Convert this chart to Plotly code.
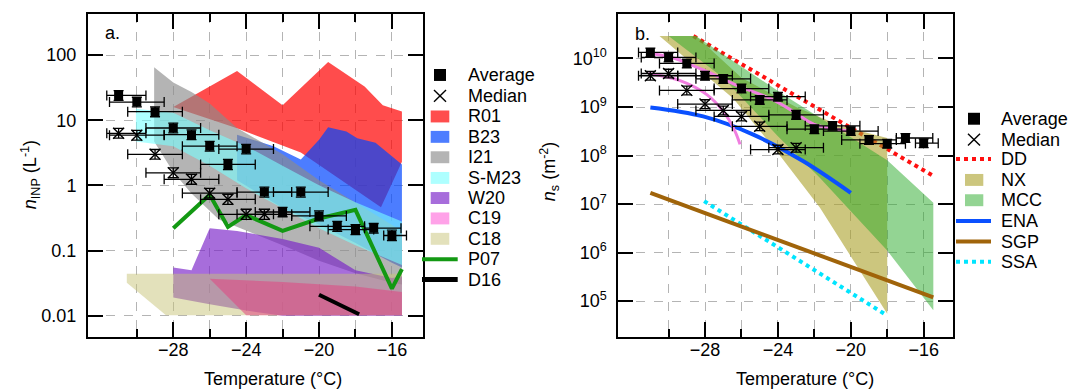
import plotly.graph_objects as go

FONT = "Liberation Sans, Arial, sans-serif"

# ---------------- panel a: INP concentration ----------------
temps = [-31, -30, -29, -28, -27, -26, -25, -24, -23, -22, -21, -20, -19, -18, -17, -16]
temp_err_minus = [0.65, 1.5, 1.5, 1.5, 1.5, 1.5, 1.5, 1.5, 1.5, 1.5, 1.5, 1.5, 1.5, 1.5, 0.5, 0.45]
temp_err_plus = [1.5, 1.5, 1.5, 1.5, 1.5, 1.5, 1.5, 1.5, 1.5, 1.5, 1.5, 1.5, 1.5, 1.0, 1.5, 0.8]

inp_avg = [24, 19, 13.5, 7.6, 6.0, 4.0, 2.1, 3.6, 0.79, 0.39, 0.79, 0.34, 0.235, 0.21, 0.22, 0.17]
inp_avg_err_plus = [4.5, 3.5, 2.5, 1.4, 1.1, 0.75, 0.4, 0.65, 0.15, 0.07, 0.15, 0.065, 0.045, 0.04, 0.04, 0.035]
inp_avg_err_minus = [3.8, 3.0, 2.2, 1.2, 0.95, 0.65, 0.35, 0.55, 0.13, 0.06, 0.13, 0.055, 0.038, 0.035, 0.035, 0.028]

med_temps = [-31, -30, -29, -28, -27, -26, -25, -24, -23]
inp_med = [6.3, 5.9, 3.0, 1.56, 1.24, 0.76, 0.61, 0.36, 0.36]
inp_med_err_plus = [1.2, 1.1, 0.55, 0.3, 0.24, 0.14, 0.12, 0.07, 0.07]
inp_med_err_minus = [1.0, 0.95, 0.48, 0.25, 0.2, 0.12, 0.1, 0.06, 0.06]

# literature bands (upper edge / lower edge)
r01_up_t = [-28, -24.5, -22, -19.5, -17.5, -16.5, -15.45]
r01_up_v = [16, 57, 17, 78, 33, 17, 13.6]
r01_lo_t = [-28, -24.5, -21, -16.6, -15.45]
r01_lo_v = [16, 7.5, 3.2, 0.46, 2.3]

b23_up_t = [-24.5, -22.5, -21, -20, -19.5, -18.5, -17.9, -16.9, -15.45]
b23_up_v = [6, 4, 2.5, 5, 7.8, 6.7, 5.3, 4.5, 2.1]
b23_lo_t = [-24.5, -22, -20, -18, -16, -15.45]
b23_lo_v = [1.2, 0.45, 0.25, 0.13, 0.065, 0.055]

i21_up_t = [-29.05, -28, -27, -26, -24.5, -22, -20, -18, -16, -15.45]
i21_up_v = [65, 38, 27, 18, 7.6, 3.0, 1.2, 0.55, 0.25, 0.2]
i21_lo_t = [-29.05, -28, -27, -25.5, -24, -22, -20, -18, -16, -15.45]
i21_lo_v = [4.7, 1.6, 0.75, 0.3, 0.2, 0.12, 0.07, 0.045, 0.032, 0.03]

sm23_up_t = [-30.05, -28, -26, -24, -22, -20, -18, -16, -15.45]
sm23_up_v = [15, 13, 7, 4, 2.0, 1.0, 0.55, 0.32, 0.28]
sm23_lo_t = [-30.05, -28, -26, -24, -22, -20, -18, -16, -15.45]
sm23_lo_v = [4.7, 4.0, 2.0, 0.9, 0.45, 0.22, 0.12, 0.07, 0.06]

w20_up_t = [-28, -27, -26, -24.5, -22, -20, -18, -16, -15.45]
w20_up_v = [0.055, 0.05, 0.22, 0.2, 0.15, 0.11, 0.05, 0.038, 0.04]
w20_lo_t = [-28, -26, -24, -22, -15.45]
w20_lo_v = [0.019, 0.015, 0.012, 0.01, 0.01]

c19_up_t = [-26, -22, -18, -15.45]
c19_up_v = [0.037, 0.033, 0.028, 0.023]
c19_lo_t = [-24, -15.45]
c19_lo_v = [0.0102, 0.0102]

c18_up_t = [-30.55, -15.45]
c18_up_v = [0.044, 0.044]
c18_lo_t = [-30.55, -28.4, -15.45]
c18_lo_v = [0.032, 0.0102, 0.0102]

p07_t = [-28, -26, -25, -24, -22, -20, -18, -16, -15.45]
p07_v = [0.22, 0.72, 0.23, 0.35, 0.2, 0.31, 0.42, 0.026, 0.052]

d16_t = [-20, -17.8]
d16_v = [0.021, 0.0105]

# ---------------- panel b: surface site density ----------------
ns_avg = [1.33e10, 1.05e10, 7.9e9, 4.4e9, 3.8e9, 2.4e9, 1.4e9, 1.64e9, 6.9e8, 3.5e8, 4.1e8, 3.2e8, 2.1e8, 1.76e8, 2.3e8, 1.8e8]
ns_avg_err_plus = [3.0e9, 2.4e9, 1.8e9, 1.0e9, 0.85e9, 0.55e9, 0.32e9, 0.37e9, 1.6e8, 0.8e8, 0.9e8, 0.7e8, 0.48e8, 0.4e8, 0.52e8, 0.41e8]
ns_avg_err_minus = [2.5e9, 2.0e9, 1.5e9, 0.83e9, 0.72e9, 0.45e9, 0.26e9, 0.31e9, 1.3e8, 0.66e8, 0.77e8, 0.6e8, 0.4e8, 0.33e8, 0.43e8, 0.34e8]

ns_med = [4.4e9, 4.9e9, 2.2e9, 1.15e9, 8.5e8, 6.4e8, 4.0e8, 1.33e8, 1.45e8]
ns_med_err_plus = [1.0e9, 1.1e9, 0.5e9, 0.26e9, 1.9e8, 1.45e8, 0.9e8, 0.3e8, 0.33e8]
ns_med_err_minus = [0.83e9, 0.92e9, 0.42e9, 0.22e9, 1.6e8, 1.2e8, 0.75e8, 0.25e8, 0.27e8]

nx_up_t = [-30.5, -28.5, -26, -23, -20.5, -18.0]
nx_up_v = [2.9e10, 2.9e10, 4.0e9, 1.0e9, 4.0e8, 2.3e8]
nx_lo_t = [-30.5, -26.45, -24.07, -21.7, -19.86, -18.0]
nx_lo_v = [2.9e10, 1.5e9, 1.23e8, 8.5e6, 6.8e5, 5.5e4]

mcc_up_t = [-30.0, -28.5, -23.5, -18, -15.47]
mcc_up_v = [2.9e10, 2.9e10, 1.6e9, 8.0e7, 1.07e7]
mcc_lo_t = [-30.0, -27.0, -24.0, -21.7, -18, -15.47]
mcc_lo_v = [2.9e10, 4.0e9, 2.5e8, 3.5e7, 1.1e6, 6.5e4]

dd_t = [-28.64, -15.47]
dd_v = [2.9e10, 3.8e7]

ena_t = [-31, -28.1, -25.35, -22.6, -20]
ena_v = [9.8e8, 6.4e8, 2.7e8, 7.6e7, 1.7e7]

sgp_t = [-31, -15.47]
sgp_v = [1.7e7, 1.2e5]

ssa_t = [-28.05, -18.02]
ssa_v = [1.15e7, 5.1e4]

fit_avg_t = [-31.2, -29.9, -28.1, -26.26, -24.43, -23.15, -22, -20]
fit_avg_v = [1.3e10, 1.07e10, 5.8e9, 2.8e9, 1.5e9, 8.1e8, 4.4e8, 3.2e8]
fit_med_t = [-31.1, -29.37, -27.9, -27.0, -26.36, -26.08]
fit_med_v = [4.9e9, 3.5e9, 1.8e9, 8.1e8, 3.2e8, 1.7e8]

# ---------------- styles ----------------
# (name, upper T, upper v, lower T, lower v, fill colour, legend swatch colour)
band_a = [
    ("R01", r01_up_t, r01_up_v, r01_lo_t, r01_lo_v, "rgba(255,0,0,0.7)", "rgb(255,77,77)"),
    ("B23", b23_up_t, b23_up_v, b23_lo_t, b23_lo_v, "rgba(0,70,255,0.7)", "rgb(77,125,255)"),
    ("I21", i21_up_t, i21_up_v, i21_lo_t, i21_lo_v, "rgba(140,140,140,0.65)", "rgb(180,180,180)"),
    ("S-M23", sm23_up_t, sm23_up_v, sm23_lo_t, sm23_lo_v, "rgba(120,255,255,0.6)", "rgb(174,255,255)"),
    ("W20", w20_up_t, w20_up_v, w20_lo_t, w20_lo_v, "rgba(120,30,200,0.65)", "rgb(167,109,219)"),
    ("C19", c19_up_t, c19_up_v, c19_lo_t, c19_lo_v, "rgba(225,70,130,0.55)", "rgb(255,162,232)"),
    ("C18", c18_up_t, c18_up_v, c18_lo_t, c18_lo_v, "rgba(200,195,120,0.5)", "rgb(227,225,187)"),
]
draw_order_a = [0, 1, 2, 3, 4, 6, 5]
band_b = [
    ("NX", nx_up_t, nx_up_v, nx_lo_t, nx_lo_v, "rgba(170,160,40,0.6)", "rgb(204,198,126)"),
    ("MCC", mcc_up_t, mcc_up_v, mcc_lo_t, mcc_lo_v, "rgba(40,170,40,0.5)", "rgb(147,212,147)"),
]

fig = go.Figure()


def add_band(name, ut, uv, lt, lv, color, _sw, xa, ya):
    fig.add_trace(go.Scatter(x=list(ut) + list(lt)[::-1], y=list(uv) + list(lv)[::-1],
                             mode="lines", fill="toself", fillcolor=color,
                             line=dict(width=0, color=color), name=name,
                             xaxis=xa, yaxis=ya, hoverinfo="skip"))


for i in draw_order_a:
    add_band(*band_a[i], "x", "y")

fig.add_trace(go.Scatter(x=p07_t, y=p07_v, mode="lines", line=dict(color="#139913", width=4),
                         name="P07", xaxis="x", yaxis="y"))
fig.add_trace(go.Scatter(x=d16_t, y=d16_v, mode="lines", line=dict(color="black", width=4),
                         name="D16", xaxis="x", yaxis="y"))

# panel b lines under the bands
fig.add_trace(go.Scatter(x=dd_t, y=dd_v, mode="lines", line=dict(color="#ff1010", width=4, dash="dot"),
                         name="DD", xaxis="x2", yaxis="y2"))
fig.add_trace(go.Scatter(x=ssa_t, y=ssa_v, mode="lines", line=dict(color="#00e5ff", width=4, dash="dot"),
                         name="SSA", xaxis="x2", yaxis="y2"))
for b in band_b:
    add_band(*b, "x2", "y2")
fig.add_trace(go.Scatter(x=ena_t, y=ena_v, mode="lines", line=dict(color="#0a50ff", width=4, shape="spline"),
                         name="ENA", xaxis="x2", yaxis="y2"))
fig.add_trace(go.Scatter(x=sgp_t, y=sgp_v, mode="lines", line=dict(color="#a0640a", width=4),
                         name="SGP", xaxis="x2", yaxis="y2"))
fig.add_trace(go.Scatter(x=fit_avg_t, y=fit_avg_v, mode="lines", line=dict(color="#f07ee0", width=3, shape="spline"),
                         name="fit avg", xaxis="x2", yaxis="y2"))
fig.add_trace(go.Scatter(x=fit_med_t, y=fit_med_v, mode="lines", line=dict(color="#f07ee0", width=3, shape="spline"),
                         name="fit med", xaxis="x2", yaxis="y2"))


def add_points(xs, ys, ep, em, xep, xem, symbol, size, xa, ya, name):
    marker = dict(symbol=symbol, size=size, color="black")
    if symbol == "x-thin":
        marker["line"] = dict(width=1.4, color="black")
    fig.add_trace(go.Scatter(
        x=xs, y=ys, mode="markers", marker=marker, name=name, xaxis=xa, yaxis=ya,
        error_x=dict(type="data", symmetric=False, array=xep, arrayminus=xem,
                     color="black", thickness=1.3, width=5),
        error_y=dict(type="data", symmetric=False, array=ep, arrayminus=em,
                     color="black", thickness=1.3, width=5)))


n_med = len(med_temps)
add_points(med_temps, inp_med, inp_med_err_plus, inp_med_err_minus,
           temp_err_plus[:n_med], temp_err_minus[:n_med], "x-thin", 11, "x", "y", "Median")
add_points(temps, inp_avg, inp_avg_err_plus, inp_avg_err_minus,
           temp_err_plus, temp_err_minus, "square", 9, "x", "y", "Average")
add_points(med_temps, ns_med, ns_med_err_plus, ns_med_err_minus,
           temp_err_plus[:n_med], temp_err_minus[:n_med], "x-thin", 11, "x2", "y2", "Median")
add_points(temps, ns_avg, ns_avg_err_plus, ns_avg_err_minus,
           temp_err_plus, temp_err_minus, "square", 9, "x2", "y2", "Average")

# ---------------- layout ----------------
W, H = 1069, 389
ML, MR, MT, MB = 88, 116, 12, 52.3
PW, PH = W - ML - MR, H - MT - MB


def pxx(v):
    return (v - ML) / PW


def pxy(v):
    return (H - MB - v) / PH


grid = dict(showgrid=True, gridcolor="#b4b4b4", gridwidth=1, griddash="dash")
axis_common = dict(ticks="inside", ticklen=15, tickwidth=2, tickcolor="black",
                   showline=True, linecolor="black", linewidth=2, mirror="ticks",
                   zeroline=False, tickfont=dict(family=FONT, size=18, color="black"), **grid)
xaxis_common = dict(axis_common, tickvals=[-28, -24, -20, -16], ticklabelstandoff=-5,
                    minor=dict(tickvals=[-30, -26, -22, -18], ticks="inside", ticklen=8, tickwidth=2,
                               tickcolor="black", **grid))

fig.update_layout(
    width=W, height=H, margin=dict(l=ML, r=MR, t=MT, b=MB, pad=0),
    paper_bgcolor="white", plot_bgcolor="white", showlegend=False,
    font=dict(family=FONT, size=18, color="black"),
    xaxis=dict(xaxis_common, domain=[0, (422.7 - ML) / PW], range=[-32.68, -14.31]),
    xaxis2=dict(xaxis_common, domain=[(618.3 - ML) / PW, 1], range=[-32.76, -14.39]),
    yaxis=dict(axis_common, type="log", range=[-2.327, 2.63], ticklabelstandoff=6,
               tickvals=[0.01, 0.1, 1, 10, 100], ticktext=["0.01", "0.1", "1", "10", "100"]),
    yaxis2=dict(axis_common, type="log", anchor="x2", range=[4.262, 10.916], ticklabelstandoff=6,
                tickvals=[1e5, 1e6, 1e7, 1e8, 1e9, 1e10],
                ticktext=["10<sup>5</sup>", "10<sup>6</sup>", "10<sup>7</sup>", "10<sup>8</sup>",
                          "10<sup>9</sup>", "10<sup>10</sup>"]),
)

shapes = []
annotations = []


def text(x, y, s, anchor="left", angle=0):
    annotations.append(dict(xref="paper", yref="paper", x=pxx(x), y=pxy(y), text=s, showarrow=False,
                            xanchor=anchor, yanchor="middle", textangle=angle,
                            font=dict(family=FONT, size=18, color="black")))


def sq(cx, cy, s=12):
    shapes.append(dict(type="rect", xref="paper", yref="paper", x0=pxx(cx - s / 2), x1=pxx(cx + s / 2),
                       y0=pxy(cy + s / 2), y1=pxy(cy - s / 2), fillcolor="black", line=dict(width=0)))


def cross(cx, cy, s=6):
    for d in (1, -1):
        shapes.append(dict(type="line", xref="paper", yref="paper", x0=pxx(cx - s), x1=pxx(cx + s),
                           y0=pxy(cy - d * s), y1=pxy(cy + d * s), line=dict(color="black", width=1.4)))


def swatch(x0, x1, cy, color, h=12):
    shapes.append(dict(type="rect", xref="paper", yref="paper", x0=pxx(x0), x1=pxx(x1),
                       y0=pxy(cy + h / 2), y1=pxy(cy - h / 2), fillcolor=color, line=dict(width=0)))


def lseg(x0, x1, cy, color, width=4, dash="solid"):
    shapes.append(dict(type="line", xref="paper", yref="paper", x0=pxx(x0), x1=pxx(x1),
                       y0=pxy(cy), y1=pxy(cy), line=dict(color=color, width=width, dash=dash)))


# legend panel a
ya = [73.3, 94.3, 115, 135.5, 156, 176.8, 197, 217.5, 238, 258.5, 279]
sq(440, ya[0]); text(465.7, ya[0], "Average")
cross(440, ya[1]); text(465.7, ya[1], "Median")
for i, b in enumerate(band_a):
    swatch(430.7, 449.3, ya[2 + i], b[6])
    text(465.7, ya[2 + i], b[0])
lseg(422, 457.7, ya[9], "#139913", 4); text(465.7, ya[9], "P07")
lseg(422, 457.7, ya[10], "black", 5); text(465.7, ya[10], "D16")

# legend panel b
yb = [117.3, 138.3, 157.7, 178.8, 199.2, 220, 240.7, 261]
sq(974, yb[0]); text(999.3, yb[0], "Average")
cross(974, yb[1]); text(999.3, yb[1], "Median")
lseg(956, 991, yb[2], "#ff1010", 4, "dot"); text(999.3, yb[2], "DD")
swatch(965, 983.3, yb[3], band_b[0][6]); text(999.3, yb[3], "NX")
swatch(965, 983.3, yb[4], band_b[1][6]); text(999.3, yb[4], "MCC")
lseg(956, 991, yb[5], "#0a50ff", 4); text(999.3, yb[5], "ENA")
lseg(956, 991, yb[6], "#a0640a", 4); text(999.3, yb[6], "SGP")
lseg(956, 991, yb[7], "#00e5ff", 4, "dot"); text(999.3, yb[7], "SSA")

# axis titles and panel tags
text(30, 174, "<i>n</i><sub>INP</sub> (L<sup>-1</sup>)", anchor="center", angle=-90)
text(549, 170, "<i>n</i><sub>s</sub> (m<sup>-2</sup>)", anchor="center", angle=-90)
text(273, 379, "Temperature (°C)", anchor="center")
text(805, 379, "Temperature (°C)", anchor="center")
text(103, 31, "a.")
text(633, 32, "b.")

fig.update_layout(shapes=shapes, annotations=annotations)
fig.write_html("out.html")
